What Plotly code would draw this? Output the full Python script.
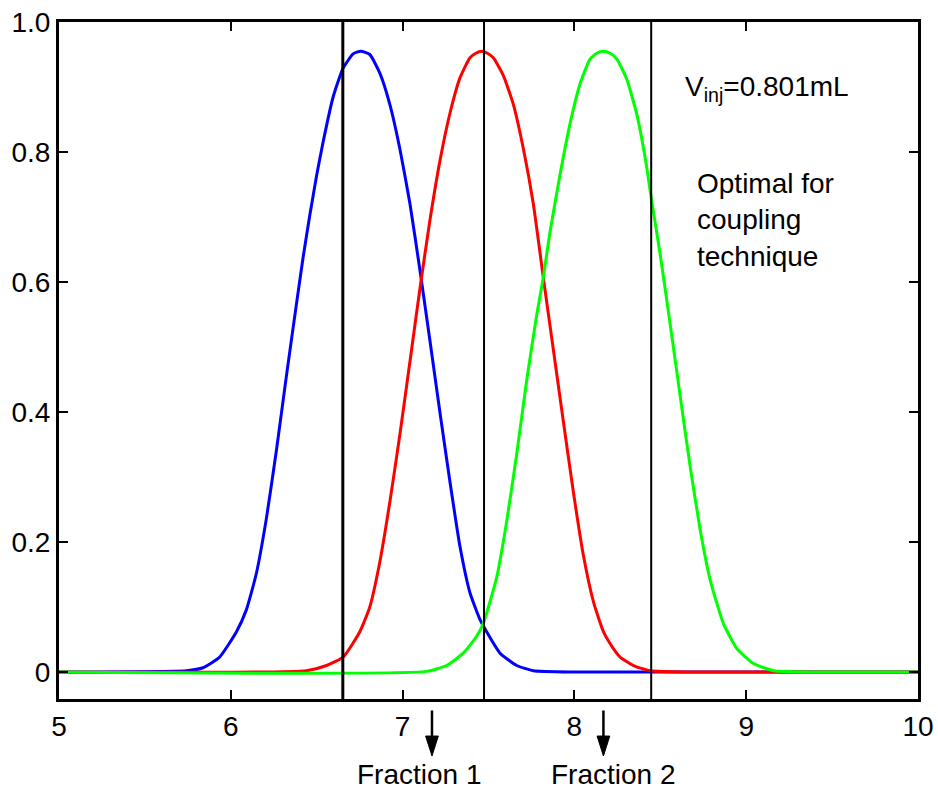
import plotly.graph_objects as go

# ---- data ----
blue_x = [5.0, 5.741, 5.838, 5.935, 6.033, 6.091, 6.149, 6.207, 6.266, 6.324, 6.382, 6.421, 6.460,
          6.499, 6.537, 6.596, 6.652, 6.712, 6.757, 6.809, 6.868, 6.926, 6.984, 7.043, 7.101,
          7.159, 7.217, 7.276, 7.334, 7.392, 7.450, 7.480, 7.567, 7.664, 7.761, 8.0, 10.0]
blue_y = [0.0, 0.002, 0.0066, 0.023, 0.062, 0.096, 0.152, 0.236, 0.342, 0.456, 0.566, 0.638, 0.703,
          0.763, 0.815, 0.885, 0.928, 0.951, 0.955, 0.950, 0.921, 0.873, 0.805, 0.720, 0.618,
          0.510, 0.400, 0.292, 0.193, 0.122, 0.081, 0.066, 0.029, 0.010, 0.002, 0.0, 0.0]

red_x = [5.0, 6.441, 6.557, 6.654, 6.751, 6.809, 6.868, 6.926, 6.984, 7.043, 7.101, 7.159, 7.217,
         7.276, 7.334, 7.392, 7.426, 7.460, 7.494, 7.528, 7.586, 7.645, 7.703, 7.761, 7.819, 7.878,
         7.936, 7.994, 8.052, 8.111, 8.169, 8.227, 8.266, 8.344, 8.441, 8.7, 10.0]
red_y = [0.0, 0.002, 0.010, 0.023, 0.062, 0.100, 0.170, 0.262, 0.365, 0.478, 0.590, 0.695, 0.786,
         0.860, 0.914, 0.945, 0.952, 0.955, 0.952, 0.945, 0.918, 0.873, 0.805, 0.720, 0.607, 0.495,
         0.385, 0.277, 0.180, 0.108, 0.062, 0.036, 0.023, 0.010, 0.002, 0.0, 0.0]

green_x = [5.0, 7.140, 7.256, 7.353, 7.431, 7.470, 7.548, 7.606, 7.664, 7.723, 7.781, 7.819, 7.858,
           7.917, 7.975, 8.033, 8.091, 8.130, 8.169, 8.208, 8.247, 8.305, 8.364, 8.422, 8.441, 8.499,
           8.558, 8.616, 8.674, 8.732, 8.791, 8.868, 8.946, 9.043, 9.160, 9.4, 10.0]
green_y = [0.0, 0.001, 0.010, 0.029, 0.055, 0.075, 0.146, 0.232, 0.335, 0.450, 0.550, 0.607, 0.677,
           0.766, 0.844, 0.905, 0.943, 0.952, 0.955, 0.952, 0.943, 0.912, 0.857, 0.775, 0.740, 0.643,
           0.534, 0.424, 0.316, 0.219, 0.141, 0.074, 0.036, 0.013, 0.002, 0.0, 0.0]

cut_positions = [6.652, 7.474, 8.447]
cut_widths = [3, 2, 2]
fraction_arrow_x = [7.171, 8.169]
fraction_label_x = [7.101, 8.226]
fraction_labels = ["Fraction 1", "Fraction 2"]

x_ticks = [5, 6, 7, 8, 9, 10]
y_ticks = [0, 0.2, 0.4, 0.6, 0.8, 1.0]
y_tick_text = ["0", "0.2", "0.4", "0.6", "0.8", "1.0"]

FONT = "Liberation Sans, Arial, Helvetica, sans-serif"
FS = 28

fig = go.Figure()

for xs, ys, col in [(blue_x, blue_y, "#0000FF"), (red_x, red_y, "#FF0000"), (green_x, green_y, "#00FF00")]:
    fig.add_trace(go.Scatter(x=xs, y=ys, mode="lines",
                             line=dict(color=col, width=3, shape="spline", smoothing=0.5),
                             showlegend=False, hoverinfo="skip"))

for xc, w in zip(cut_positions, cut_widths):
    fig.add_shape(type="line", xref="x", yref="paper", x0=xc, x1=xc, y0=0, y1=1,
                  line=dict(color="black", width=w), layer="above")

# arrows below the axis (shaft + filled head), in paper units vertically
HEAD_HALF = 0.037
for xa in fraction_arrow_x:
    fig.add_shape(type="line", xref="x", yref="paper", x0=xa, x1=xa, y0=-0.017, y1=-0.058,
                  line=dict(color="black", width=2.5))
    fig.add_shape(type="path", xref="x", yref="paper",
                  path=f"M {xa - HEAD_HALF} -0.0547 L {xa + HEAD_HALF} -0.0547 L {xa} -0.0842 Z",
                  fillcolor="black", line=dict(color="black", width=1))

annotations = []
annotations.append(dict(x=8.633, y=0.897, xref="x", yref="y", xanchor="left", yanchor="middle",
                        text="V<sub>inj</sub>=0.801mL", showarrow=False,
                        font=dict(family=FONT, size=FS, color="black")))
annotations.append(dict(x=8.700, y=0.696, xref="x", yref="y", xanchor="left", yanchor="middle",
                        align="left", text="Optimal for<br>coupling<br>technique", showarrow=False,
                        font=dict(family=FONT, size=FS, color="black")))
for lx, lab in zip(fraction_label_x, fraction_labels):
    annotations.append(dict(x=lx, y=-0.112, xref="x", yref="paper", text=lab, showarrow=False,
                            xanchor="center", yanchor="middle",
                            font=dict(family=FONT, size=FS, color="black")))

fig.update_layout(
    width=938, height=794,
    margin=dict(l=59, r=20, t=22, b=95, autoexpand=False),
    paper_bgcolor="white", plot_bgcolor="white",
    font=dict(family=FONT, size=FS, color="black"),
    annotations=annotations,
    xaxis=dict(range=[5, 10], tickvals=x_ticks, ticks="inside", ticklen=9, tickwidth=2,
               tickcolor="black", showline=True, linecolor="black", linewidth=3, mirror="ticks",
               showgrid=False, zeroline=False, automargin=False, ticklabeloverflow="allow",
               tickfont=dict(family=FONT, size=FS)),
    yaxis=dict(range=[-0.0415, 1.0], tickvals=y_ticks, ticktext=y_tick_text, ticks="inside", ticklen=9,
               tickwidth=2, tickcolor="black", showline=True, linecolor="black", linewidth=3,
               mirror="ticks", showgrid=False, zeroline=False, automargin=False,
               ticklabeloverflow="allow", tickfont=dict(family=FONT, size=FS)),
)

fig.write_html("out.html", config={"displayModeBar": False},
               post_script="document.body.style.margin='0';document.body.style.overflow='hidden';")
